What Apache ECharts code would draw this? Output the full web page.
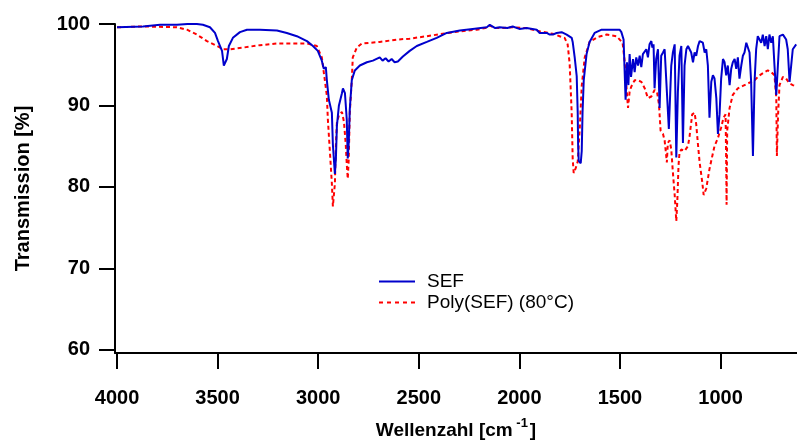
<!DOCTYPE html>
<html><head><meta charset="utf-8">
<script src="https://cdn.jsdelivr.net/npm/echarts@6/dist/echarts.min.js"></script>
<style>html,body{margin:0;padding:0;background:#fff}#c{width:797px;height:445px}</style>
</head><body><div id="c"></div>
<script>
const xTicks = [4000, 3500, 3000, 2500, 2000, 1500, 1000];
const yTicks = [60, 70, 80, 90, 100];
const seriesNames = ['SEF', 'Poly(SEF) (80°C)'];

const sefWave = [4000,3871,3786,3702,3650,3603,3573,3538,3513,3498,3478,3469,3454,3444,3424,3389,3354,3290,3205,3156,3106,3056,3026,3002,2982,2972,2962,2957,2947,2932,2927,2917,2912,2907,2897,2882,2877,2867,2858,2853,2848,2843,2833,2818,2793,2758,2728,2694,2680,2665,2650,2635,2620,2604,2579,2545,2510,2460,2411,2361,2296,2232,2162,2147,2120,2098,2060,2033,2000,1964,1914,1899,1864,1849,1834,1815,1790,1765,1740,1735,1725,1715,1710,1708,1705,1695,1690,1686,1680,1666,1651,1626,1591,1551,1502,1493,
1482,1472,1465,1458,1452,1445,1435,1427,1419,1410,1402,1394,1386,1377,1369,1361,1353,1344,1339,1333,1328,1320,1311,1303,1295,1286,1278,1270,1257,1245,1237,1228,1220,1212,1204,1195,1187,1179,1170,1162,1154,1146,1137,1129,1121,1112,1104,1096,1088,1079,1071,1063,1055,1046,1038,1030,1021,1013,1005,997,988,980,972,964,955,947,939,930,922,914,906,897,889,881,872,864,856,848,839,831,823,815,806,798,790,781,773,765,757,748,740,732,723,715,707,690,674,666,657,649,641,624];
const sefT = [99.6,99.7,99.9,99.9,100.0,100.0,99.9,99.6,98.9,97.9,96.7,94.9,95.7,97.3,98.3,99.0,99.3,99.3,99.2,98.9,98.5,97.9,97.3,96.7,95.5,94.5,94.7,93.1,90.7,89.1,85.2,81.6,83.5,87.5,90.0,91.5,92.1,91.5,88.3,83.5,85.5,89.5,93.1,94.3,94.9,95.3,95.5,95.9,95.5,95.8,95.4,95.7,95.3,95.4,96.0,96.7,97.3,97.8,98.3,98.9,99.2,99.4,99.6,99.9,99.5,99.6,99.5,99.7,99.4,99.5,99.3,98.9,98.9,98.7,98.7,98.9,99.0,98.7,98.3,97.8,95.9,93.6,89.1,85.2,83.2,82.9,84.4,89.1,93.1,96.3,97.8,98.9,99.3,99.3,99.3,99.0,
98.1,90.7,95.3,92.5,96.3,93.5,95.7,94.1,95.9,94.9,96.1,94.7,96.3,96.5,96.9,95.9,97.5,97.9,97.1,97.5,92.1,95.7,96.9,89.7,96.1,96.5,96.9,96.7,87.1,94.9,96.5,97.5,83.6,91.7,96.1,97.3,85.4,94.9,96.9,97.3,96.9,96.5,95.3,96.5,96.1,97.3,97.9,97.9,97.7,96.5,96.9,94.9,88.5,92.9,93.7,93.3,90.9,86.5,88.9,93.3,95.7,95.3,93.7,94.9,92.5,94.5,95.3,95.7,94.5,95.9,93.3,94.9,96.1,96.5,97.7,97.5,96.5,92.9,83.8,92.9,96.9,98.5,98.7,97.7,98.7,97.3,98.5,96.9,98.7,97.7,98.5,94.9,91.3,94.9,98.5,98.7,98.1,96.9,92.9,94.9,96.9,97.5];

const polyWave = [4000,3871,3702,3652,3603,3553,3503,3473,3439,3374,3290,3205,3126,3056,3007,2982,2967,2957,2952,2942,2932,2927,2917,2912,2907,2897,2882,2872,2863,2858,2853,2848,2843,2833,2828,2808,2783,2694,2604,2545,2460,2381,2296,2212,2170,2147,2120,2098,2033,1964,1899,1834,1800,1775,1760,1750,1740,1735,1730,1720,1710,1700,1690,1675,1651,1611,1566,1517,1487,1477,1467,1460,1452,1444,1427,1411,1394,1377,1361,1353,1344,1328,1316,1306,1298,1286,1278,1270,1267,1262,1253,1245,1237,1228,1220,1215,1209,1204,1195,1179,1170,1162,1154,1141,1129,1121,1113,1104,1091,1084,1071,1055,1041,1030,1013,997,985,975,972,970,967,955,939,914,889,864,848,831,806,781,765,748,732,723,720,714,707,690,674,657,641,624];
const polyT = [99.6,99.7,99.6,99.3,98.7,97.9,97.3,96.9,96.9,97.1,97.4,97.6,97.6,97.6,97.3,95.9,93.1,91.2,88.3,84.4,80.4,77.6,80.4,85.2,87.9,88.8,89.2,88.0,85.2,82.8,81.0,83.5,89.1,93.1,95.9,97.1,97.6,97.8,98.1,98.2,98.5,98.8,99.1,99.3,99.5,99.8,99.5,99.5,99.6,99.5,99.1,98.8,98.5,98.3,97.5,95.1,89.1,83.5,81.7,82.3,83.1,87.1,92.4,95.9,97.8,98.4,98.7,98.5,97.7,95.5,92.0,89.7,91.7,92.3,93.1,93.1,92.9,92.1,90.9,90.7,91.1,91.9,91.7,90.1,86.9,86.5,85.7,83.8,83.0,85.4,85.7,84.6,81.8,79.0,75.8,78.2,82.6,84.2,84.6,84.4,84.2,85.0,86.2,88.9,89.1,87.7,85.4,83.0,80.6,79.0,79.8,82.2,83.8,85.0,86.0,87.3,88.5,88.9,83.0,77.8,86.9,89.7,91.3,92.1,92.4,92.7,92.9,93.1,93.7,94.1,94.3,94.1,93.7,90.9,83.8,88.9,92.5,93.5,93.3,92.7,92.5,92.3];

const sefData = sefWave.map((w, i) => [w, sefT[i]]);
const polyData = polyWave.map((w, i) => [w, polyT[i]]);

const FONT = '"Liberation Sans", Arial, sans-serif';
const solidIcon = 'path://M0 0H36V2H0Z';
const dashIcon = 'path://M0 0H4V2H0Z M8 0H12V2H8Z M16 0H20V2H16Z M24 0H28V2H24Z M32 0H36V2H32Z';

const chart = echarts.init(document.getElementById('c'), null, {renderer: 'canvas'});
chart.setOption({
  animation: false,
  backgroundColor: '#fff',
  grid: {left: 115, right: 0, top: 24, bottom: 83, containLabel: false},
  legend: {
    left: 374, top: 267, orient: 'vertical',
    itemWidth: 36, itemHeight: 2, itemGap: 2,
    textStyle: {fontFamily: FONT, fontSize: 19, color: '#000', padding: [0, 0, 0, 7]},
    data: [
      {name: seriesNames[0], icon: solidIcon, itemStyle: {color: '#0000CC'}},
      {name: seriesNames[1], icon: dashIcon, itemStyle: {color: '#FF0000'}}
    ]
  },
  xAxis: {
    type: 'value', inverse: true, min: 620, max: 4010,
    axisLine: {show: true, onZero: false, lineStyle: {color: '#000', width: 2}},
    axisTick: {show: true, length: 16, lineStyle: {color: '#000', width: 2}, customValues: xTicks},
    axisLabel: {customValues: xTicks, margin: 35, fontFamily: FONT, fontWeight: 'bold', fontSize: 20, color: '#000',
      formatter: v => String(v)},
    splitLine: {show: false},
    name: '{a|Wellenzahl [cm}{s| -1}{a|]}',
    nameLocation: 'middle', nameGap: 64,
    nameTextStyle: {
      rich: {
        a: {fontFamily: FONT, fontWeight: 'bold', fontSize: 19, color: '#000'},
        s: {fontFamily: FONT, fontWeight: 'bold', fontSize: 13, color: '#000', verticalAlign: 'top', padding: [0, 2, 14, 0]}
      }
    }
  },
  yAxis: {
    type: 'value', min: 59.6, max: 100,
    axisLine: {show: true, onZero: false, lineStyle: {color: '#000', width: 2}},
    axisTick: {show: true, length: 16, lineStyle: {color: '#000', width: 2}, customValues: yTicks},
    axisLabel: {customValues: yTicks, margin: 25, fontFamily: FONT, fontWeight: 'bold', fontSize: 20, color: '#000',
      formatter: v => String(v)},
    splitLine: {show: false},
    name: 'Transmission [%]', nameLocation: 'middle', nameGap: 82,
    nameTextStyle: {fontFamily: FONT, fontWeight: 'bold', fontSize: 20, color: '#000'}
  },
  series: [
    {name: seriesNames[0], type: 'line', data: sefData, showSymbol: false, symbol: 'none',
     lineStyle: {color: '#0000CC', width: 2}, itemStyle: {color: '#0000CC'}, z: 3},
    {name: seriesNames[1], type: 'line', data: polyData, showSymbol: false, symbol: 'none',
     lineStyle: {color: '#FF0000', width: 2, type: [4, 3]}, itemStyle: {color: '#FF0000'}, z: 2}
  ]
});
</script></body></html>
